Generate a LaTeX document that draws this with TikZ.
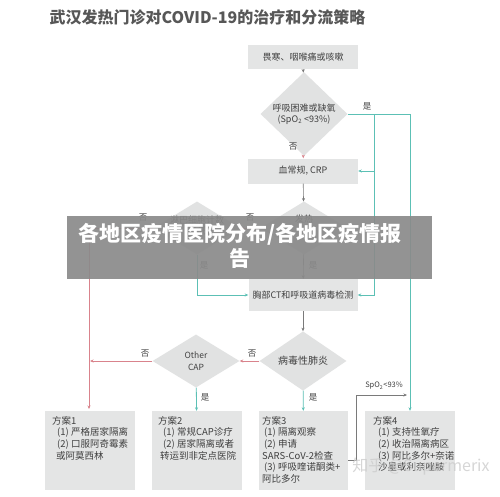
\documentclass[tikz,border=0pt]{standalone}
\usepackage{fontspec}
\setmainfont{Noto Sans CJK SC}
\usetikzlibrary{arrows.meta,shapes.geometric}
\definecolor{boxgray}{HTML}{E4E5E5}
\definecolor{dgray}{HTML}{E1E2E2}
\definecolor{teal1}{HTML}{5CC0B5}
\definecolor{red1}{HTML}{D9838C}
\definecolor{arrgray}{HTML}{7A7A7A}
\definecolor{titlegray}{HTML}{575757}
\definecolor{txt}{HTML}{404040}
\definecolor{bannergray}{HTML}{8A8A8A}
\tikzset{
  tip/.style={-{Stealth[length=3.5pt,width=3pt]}},
  procbox/.style={fill=boxgray, draw=none, minimum width=110pt, minimum height=25pt, inner sep=0pt, font=\fontsize{9}{11}\selectfont, text=txt},
  dec/.style={diamond, fill=dgray, draw=none, minimum width=87pt, minimum height=53pt, inner sep=0pt, align=center, font=\fontsize{9}{11}\selectfont, text=txt},
  plan/.style={fill=boxgray, draw=none, minimum width=90pt, minimum height=79pt, inner sep=0pt},
  plantext/.style={anchor=north west, align=left, inner sep=0pt, font=\fontsize{9.5}{11.6}\selectfont, text=txt},
  lbl/.style={font=\fontsize{8.5}{10}\selectfont, text=txt, inner sep=0pt},
  grayline/.style={draw=arrgray, line width=0.6pt},
  tealline/.style={draw=teal1, line width=0.8pt},
  redline/.style={draw=red1, line width=0.7pt},
}
\begin{document}
\begin{tikzpicture}[x=1pt,y=-1pt]
\useasboundingbox (0,0) rectangle (500,496);
\fill[white] (0,0) rectangle (500,496);
% title
\node[font=\fontsize{16}{18}\selectfont\bfseries, text=titlegray, inner sep=0pt] (title) at (207.5,17) {武汉发热门诊对COVID-19的治疗和分流策略};
% nodes
\node[procbox, minimum height=24pt] (a) at (303,57) {畏寒、咽喉痛或咳嗽};
\node[dec] (b) at (304,114) {呼吸困难或缺氧\\(SpO\textsubscript{2} <93\%)};
\node[procbox] (c) at (303,171) {血常规, CRP};
\node[dec] (d2) at (304,228) {};
\node[dec] (d1) at (197,228) {};
\node[font=\fontsize{9}{11}\selectfont, text=txt, inner sep=0pt] (d2t) at (304,219) {发热};
\node[font=\fontsize{9}{11}\selectfont, text=txt, inner sep=0pt, align=center] (d1t) at (197,226) {淋巴细胞计数\\降低};
\node[procbox, minimum height=32pt, minimum width=109pt] (ct) at (303,295) {胸部CT和呼吸道病毒检测};
\node[dec, font=\fontsize{10}{12}\selectfont] (d3) at (303,361) {病毒性肺炎};
\node[dec, font=\fontsize{8.5}{12}\selectfont] (d4) at (196,361) {Other\\CAP};
% plan boxes
\node[plan] (p1) at (90,450.5) {};
\node[plan] (p2) at (197,450.5) {};
\node[plan, minimum width=89pt] (p3) at (303.5,450.5) {};
\node[plan] (p4) at (410,450.5) {};
\node[plantext] (p1t) at (52,416) {方案1\\\hspace*{5pt}(1) 严格居家隔离\\\hspace*{5pt}(2) 口服阿奇霉素\\\hspace*{4pt}或阿莫西林};
\node[plantext] (p2t) at (158,416) {方案2\\\hspace*{5pt}(1) 常规CAP诊疗\\\hspace*{5pt}(2) 居家隔离或者\\\hspace*{2pt}转运到非定点医院};
\node[plantext] (p3t) at (262,416) {方案3\\\hspace*{2pt}(1) 隔离观察\\\hspace*{2pt}(2) 申请\\SARS-CoV-2检查\\\hspace*{2pt}(3) 呼吸喹诺酮类+\\阿比多尔};
\node[plantext] (p4t) at (373,416) {方案4\\\hspace*{5pt}(1) 支持性氧疗\\\hspace*{5pt}(2) 收治隔离病区\\\hspace*{5pt}(3) 阿比多尔+奈诺\\\hspace*{5pt}沙星或利奈唑胺};
% connectors
\draw[grayline, tip] (a) -- (b);
\draw[redline, tip] (b) -- (c);
\node[lbl] (lb1) at (293,147) {否};
\coordinate (j1) at (374,114);
\coordinate (j2) at (374,171);
\draw[tealline, tip] (b.east) -| (p4.north);
\draw[tealline, tip] (j1) |- (ct.east);
\draw[tealline, tip] (j2) -- (c.east);
\node[lbl] (lb2) at (367,106) {是};
\draw[grayline, tip] (c) -- (d2);
\draw[redline, tip] (d2.west) -- (d1.east);
\node[lbl] (lb3) at (250,218) {否};
\coordinate (j3) at (89,228);
\draw[redline] (d1.west) -- (j3);
\draw[redline, tip] (j3) -- (89,409) coordinate (j4);
\node[lbl] (lb4) at (143,218) {否};
\draw[tealline, tip] (d1.south) |- (ct.west);
\node[lbl] (lb5) at (204,265) {是};
\draw[grayline, tip] (d2) -- (ct);
\node[lbl] (lb6) at (313,265) {是};
\draw[grayline, tip] (ct) -- (d3);
\draw[redline, tip] (d3.west) -- (d4.east);
\node[lbl] (lb7) at (252,354) {否};
\coordinate (j5) at (90,361);
\draw[redline, tip] (d4.west) -- (j5);
\node[lbl] (lb8) at (145,354) {否};
\draw[tealline, tip] (d4) -- (p2);
\node[lbl] (lb9) at (205,397) {是};
\draw[tealline, tip] (d3) -- (p3);
\node[lbl] (lb10) at (313,397) {是};
\coordinate (s1) at (348,460);
\coordinate (s2) at (356,395);
\coordinate (s3) at (407,395);
\draw[grayline, tip] (s1) -| (s2) -- (s3);
\node[lbl, font=\fontsize{7.5}{9}\selectfont] (lb11) at (384,386) {SpO\textsubscript{2}<93\%};
% banner overlay
\fill[bannergray, opacity=0.92] (67,216) rectangle (432,279);
\node[font=\fontsize{21}{25}\selectfont\bfseries, text=white, align=center, inner sep=0pt] (banner) at (240,246) {各地区疫情医院分布/各地区疫情报\\告};
% watermark
\node[font=\fontsize{16}{18}\selectfont, text=gray!40, opacity=0.8, inner sep=0pt] (wm) at (421,467) {知乎 @Supermerix};
\end{tikzpicture}
\end{document}
